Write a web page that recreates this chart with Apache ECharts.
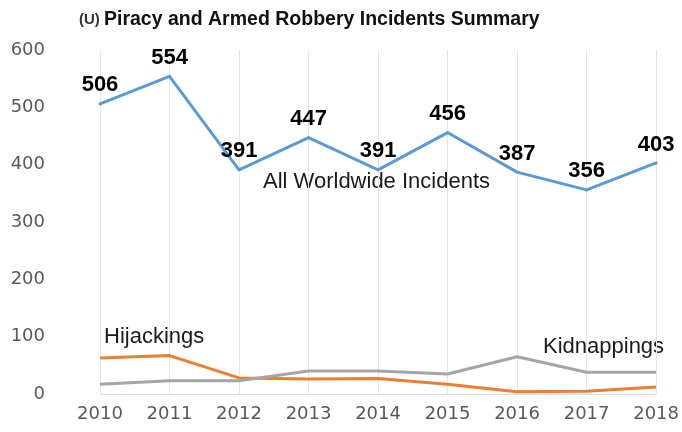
<!DOCTYPE html>
<html><head><meta charset="utf-8">
<script src="https://cdn.jsdelivr.net/npm/echarts@6/dist/echarts.min.js"></script>
<style>html,body{margin:0;padding:0;background:#fff}#c{width:682px;height:432px}</style>
</head><body><div id="c"></div>
<script>
const years = ['2010','2011','2012','2013','2014','2015','2016','2017','2018'];
const allIncidents = [506, 554, 391, 447, 391, 456, 387, 356, 403];
const hijackings = [63, 67, 28, 26, 27, 17, 4, 5, 12];
const kidnappings = [17, 23, 23, 40, 40, 35, 65, 38, 38];
const yTicks = [0, 100, 200, 300, 400, 500, 600];

const sans = '"Liberation Sans", Arial, sans-serif';
const axisFont = '"DejaVu Sans", sans-serif';
const chart = echarts.init(document.getElementById('c'));
chart.setOption({
  animation: false,
  backgroundColor: '#fff',
  title: {
    text: '{n|(U) }{b|Piracy and Armed Robbery Incidents Summary}',
    left: 74, top: 5,
    textStyle: {
      rich: {
        n: {fontFamily: sans, fontSize: 15, color: '#333'},
        b: {fontFamily: sans, fontSize: 19.5, fontWeight: 'bold', color: '#111'}
      }
    }
  },
  grid: {left: 100, right: 23, top: 50, bottom: 38},
  xAxis: {
    type: 'category', data: years, boundaryGap: false,
    axisLine: {show: true, lineStyle: {color: '#d9d9d9', width: 1}},
    axisTick: {show: false},
    splitLine: {show: true, lineStyle: {color: '#e6e6e6', width: 1}},
    axisLabel: {fontFamily: axisFont, fontSize: 18, color: '#595959', margin: 11}
  },
  yAxis: {
    type: 'value', min: 0, max: 600, interval: 100,
    axisLine: {show: false}, axisTick: {show: false},
    splitLine: {show: false},
    axisLabel: {fontFamily: axisFont, fontSize: 18, color: '#595959', margin: 55,
      formatter: v => yTicks.includes(v) ? String(v) : ''}
  },
  series: [
    {name: 'All Worldwide Incidents', type: 'line', data: allIncidents,
     symbol: 'circle', symbolSize: 3, showSymbol: true,
     lineStyle: {color: '#5B9BD5', width: 3}, itemStyle: {color: '#5B9BD5'},
     label: {show: true, position: 'top', distance: 6, fontFamily: sans, fontSize: 22,
       fontWeight: 'bold', color: '#000'}},
    {name: 'Hijackings', type: 'line', data: hijackings,
     symbol: 'none', lineStyle: {color: '#ED7D31', width: 3}, itemStyle: {color: '#ED7D31'}},
    {name: 'Kidnappings', type: 'line', data: kidnappings,
     symbol: 'none', lineStyle: {color: '#A5A5A5', width: 3}, itemStyle: {color: '#A5A5A5'}}
  ],
  graphic: [
    {type: 'text', left: 263, top: 171, style: {text: 'All Worldwide Incidents', font: '22px ' + sans, fill: '#1a1a1a'}},
    {type: 'text', left: 104, top: 326, style: {text: 'Hijackings', font: '22px ' + sans, fill: '#1a1a1a'}},
    {type: 'text', left: 543, top: 336, style: {text: 'Kidnappings', font: '22px ' + sans, fill: '#1a1a1a'}}
  ]
});
</script></body></html>
